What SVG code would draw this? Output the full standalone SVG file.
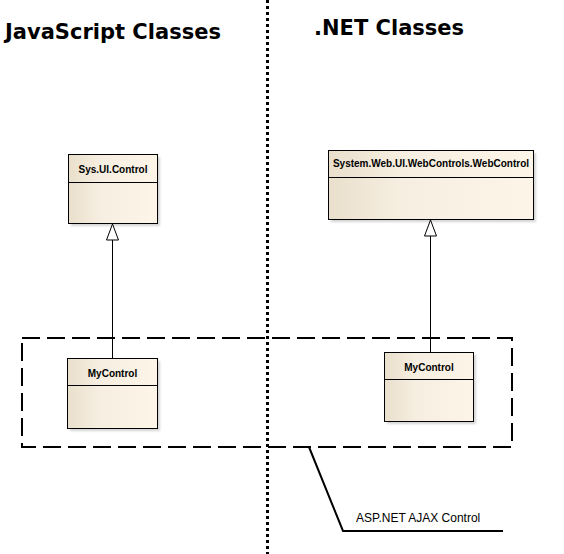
<svg xmlns="http://www.w3.org/2000/svg" width="564" height="554" viewBox="0 0 564 554">
<defs>
<linearGradient id="fillG" x1="0" y1="0" x2="1" y2="0">
<stop offset="0" stop-color="#e9dfcc"/>
<stop offset="0.35" stop-color="#f6eee0"/>
<stop offset="1" stop-color="#fdf5e8"/>
</linearGradient>
<filter id="sh" x="-10%" y="-10%" width="130%" height="130%">
<feGaussianBlur stdDeviation="1"/>
</filter>
</defs>
<style>
.title{font-family:"DejaVu Sans",sans-serif;font-weight:bold;font-size:21px;fill:#000}
.cls{font-family:"Liberation Sans",Arial,sans-serif;font-weight:bold;font-size:10px;fill:#000;text-anchor:middle}
.box{fill:url(#fillG);stroke:#000;stroke-width:1}
.shadow{fill:#d4d4d4;filter:url(#sh)}
.div{stroke:#000;stroke-width:1}
.edge{stroke:#000;stroke-width:1;fill:none}
.head{fill:#fff;stroke:#000;stroke-width:1}
.note{font-family:"Liberation Sans",Arial,sans-serif;font-size:12px;fill:#000}
</style>
<rect width="564" height="554" fill="#fff"/>
<g id="separator">
<line x1="267.5" y1="0" x2="267.5" y2="554" stroke="#000" stroke-width="3" stroke-dasharray="3 3"/>
</g>
<text class="title" x="5" y="39">JavaScript Classes</text>
<text class="title" x="314" y="35">.NET Classes</text>
<g id="boundary">
<rect x="22" y="338" width="490" height="109" fill="none" stroke="#000" stroke-width="2" stroke-dasharray="18 7"/>
</g>
<g id="node-sys-ui-control">
<rect class="shadow" x="71" y="157" width="89" height="69"/>
<rect class="box" x="68.5" y="154.5" width="89" height="69"/>
<line class="div" x1="68.5" y1="182.5" x2="157.5" y2="182.5"/>
<text class="cls" x="113" y="173">Sys.UI.Control</text>
</g>
<g id="node-webcontrol">
<rect class="shadow" x="331" y="153" width="205" height="69"/>
<rect class="box" x="328.5" y="150.5" width="205" height="69"/>
<line class="div" x1="328.5" y1="177.5" x2="533.5" y2="177.5"/>
<text class="cls" x="431" y="167">System.Web.UI.WebControls.WebControl</text>
</g>
<g id="node-mycontrol-js">
<rect class="shadow" x="70" y="361" width="90" height="70"/>
<rect class="box" x="67.5" y="358.5" width="90" height="70"/>
<line class="div" x1="67.5" y1="385.5" x2="157.5" y2="385.5"/>
<text class="cls" x="112.5" y="377">MyControl</text>
</g>
<g id="node-mycontrol-net">
<rect class="shadow" x="387" y="355" width="89" height="69"/>
<rect class="box" x="384.5" y="352.5" width="89" height="69"/>
<line class="div" x1="384.5" y1="379.5" x2="473.5" y2="379.5"/>
<text class="cls" x="429" y="371">MyControl</text>
</g>
<g id="connectors">
<line class="edge" x1="112.5" y1="358" x2="112.5" y2="240"/>
<polygon class="head" points="112.5,224 106.5,240 118.5,240"/>
<line class="edge" x1="430.5" y1="352" x2="430.5" y2="236"/>
<polygon class="head" points="430.5,220 424.5,236 436.5,236"/>
<polyline points="309,447 343,531 503,531" fill="none" stroke="#000" stroke-width="2"/>
</g>
<text class="note" x="356" y="522">ASP.NET AJAX Control</text>
</svg>
